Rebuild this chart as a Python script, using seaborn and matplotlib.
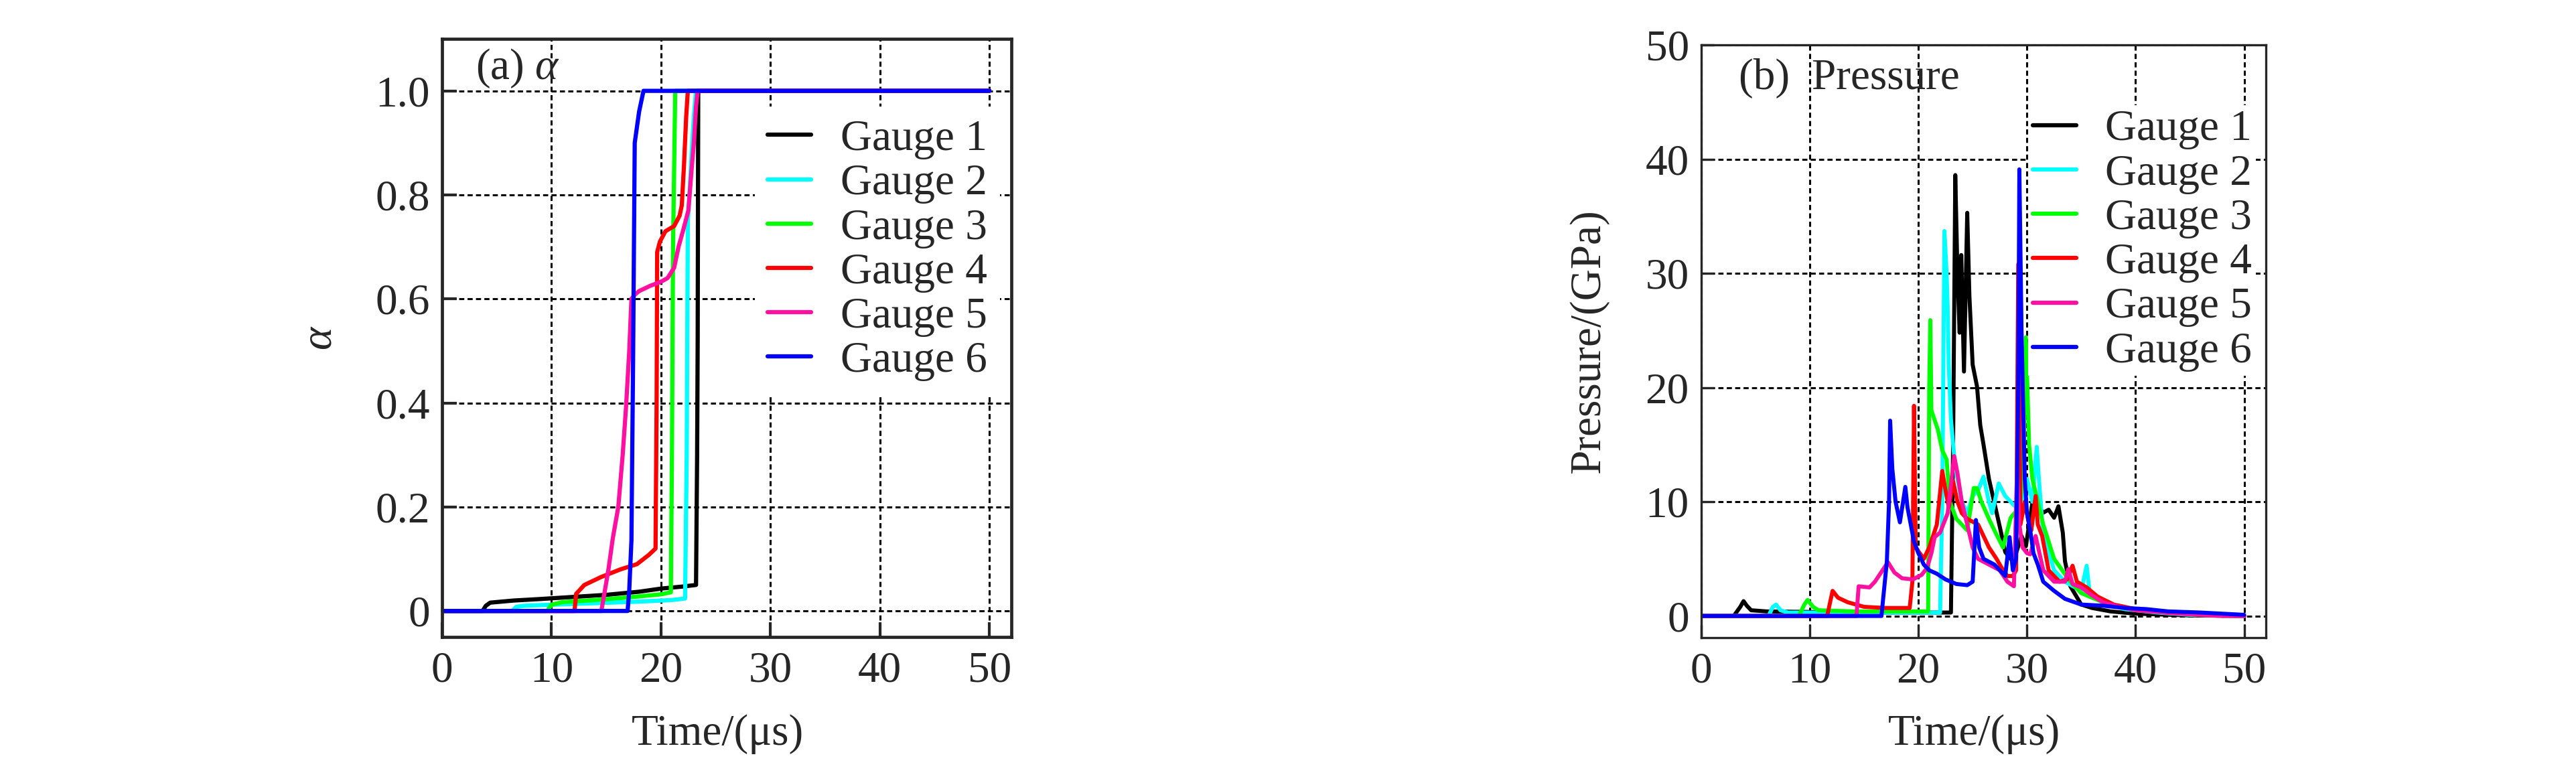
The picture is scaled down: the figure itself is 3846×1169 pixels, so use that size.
import numpy as np
import pandas as pd
import seaborn as sns
import matplotlib
matplotlib.use("Agg")
import matplotlib.pyplot as plt

# ---- data ----
gauges = ["Gauge 1", "Gauge 2", "Gauge 3", "Gauge 4", "Gauge 5", "Gauge 6"]
colors = ["#000000", "#00ffff", "#00ff00", "#ff0000", "#ff10a0", "#0000ff"]

# (a) alpha vs time, (t, alpha) pairs
alpha_g1 = [(0, 0), (3.7, 0), (4.0, 0.01), (4.4, 0.016), (6.5, 0.02), (9.0, 0.023), (12, 0.027),
            (15, 0.031), (18, 0.037), (20, 0.043), (22, 0.047), (23.2, 0.05), (23.3, 0.3),
            (23.35, 0.52), (23.4, 1.0), (50, 1.0)]
alpha_g2 = [(0, 0), (6.4, 0), (6.8, 0.008), (7.5, 0.01), (10, 0.012), (14, 0.015), (18, 0.018),
            (21, 0.021), (22.2, 0.024), (22.35, 0.3), (22.45, 0.75), (22.6, 0.8), (22.8, 0.88),
            (23.0, 0.95), (23.2, 1.0), (50, 1.0)]
alpha_g3 = [(0, 0), (9.6, 0), (10.0, 0.012), (11, 0.017), (14, 0.021), (17, 0.026), (20, 0.032),
            (20.9, 0.036), (21.0, 0.3), (21.1, 0.7), (21.3, 1.0), (50, 1.0)]
alpha_g4 = [(0, 0), (12.1, 0), (12.25, 0.033), (13.0, 0.05), (14.5, 0.065), (16.3, 0.08),
            (17.8, 0.09), (18.9, 0.108), (19.5, 0.12), (19.6, 0.4), (19.65, 0.69), (19.9, 0.71),
            (20.4, 0.73), (21.2, 0.74), (21.7, 0.76), (21.9, 0.78), (22.1, 0.857), (22.3, 0.95),
            (22.45, 1.0), (50, 1.0)]
alpha_g5 = [(0, 0), (14.55, 0), (14.8, 0.03), (15.2, 0.08), (15.6, 0.14), (16.1, 0.2), (16.5, 0.3),
            (16.8, 0.39), (17.1, 0.5), (17.3, 0.6), (17.6, 0.608), (18.0, 0.615), (19.0, 0.625),
            (20.0, 0.633), (20.6, 0.64), (21.2, 0.66), (21.6, 0.7), (22.0, 0.73), (22.5, 0.77),
            (22.8, 0.85), (23.0, 0.9), (23.2, 0.97), (23.35, 1.0), (50, 1.0)]
alpha_g6 = [(0, 0), (16.95, 0), (17.1, 0.04), (17.3, 0.136), (17.45, 0.48), (17.6, 0.9),
            (18.0, 0.96), (18.4, 1.0), (50, 1.0)]

# (b) pressure (GPa) vs time
pres_g1 = [(0, 0), (3.0, 0), (3.6, 0.8), (3.9, 1.3), (4.2, 0.9), (4.6, 0.5), (6, 0.4), (10, 0.35),
           (15, 0.3), (20, 0.3), (23.0, 0.3), (23.2, 15), (23.4, 38.6), (23.6, 30), (23.8, 24.8),
           (23.95, 31.6), (24.2, 21.4), (24.5, 35.3), (24.7, 28), (25.0, 22), (25.4, 20.1),
           (25.7, 16.7), (26.0, 15.0), (26.5, 12.0), (27.0, 9.9), (27.5, 7.8), (28.0, 5.6),
           (28.5, 5.0), (29.0, 5.5), (29.5, 7.0), (29.9, 6.1), (30.5, 9.9), (31.0, 10.3),
           (31.4, 9.0), (32.0, 9.3), (32.5, 8.6), (32.9, 9.6), (33.3, 7.3), (33.5, 4.8),
           (34.0, 2.6), (35.0, 1.0), (36.0, 0.7), (37.7, 0.4), (40, 0.2), (45, 0.05), (50, 0)]
pres_g2 = [(0, 0), (6.2, 0), (6.6, 0.8), (6.9, 1.0), (7.3, 0.5), (8, 0.3), (12, 0.3), (18, 0.3),
           (22.0, 0.3), (22.2, 10), (22.4, 33.7), (22.6, 30), (22.7, 27), (22.8, 22), (23.0, 17.2),
           (23.3, 14), (23.6, 12), (24.0, 10), (24.5, 9), (25.0, 10.5), (25.5, 11), (26.0, 12.2),
           (26.5, 10), (26.8, 9), (27.4, 11.6), (28.0, 10.5), (29.0, 9.5), (29.5, 9), (30.0, 12),
           (30.5, 10), (30.9, 14.8), (31.1, 12), (31.5, 7), (32.5, 4), (33.5, 3), (35.0, 2.2),
           (35.5, 4.4), (35.8, 1.8), (37, 1.2), (39, 0.6), (42, 0.3), (45, 0.1), (50, 0)]
pres_g3 = [(0, 0), (9.0, 0), (9.5, 1.0), (9.8, 1.4), (10.3, 0.8), (10.8, 0.5), (14, 0.4), (18, 0.4),
           (20.9, 0.4), (21.0, 20), (21.1, 25.9), (21.2, 18), (21.8, 16.3), (22.2, 14.5),
           (22.6, 13.7), (22.9, 10), (23.5, 8.5), (24.0, 8), (24.5, 7.5), (25.1, 11.2), (25.4, 11.2),
           (25.8, 10), (26.5, 8.5), (27.0, 7.5), (27.8, 6.0), (28.5, 8.6), (29.3, 9.5), (29.6, 12),
           (29.9, 24.4), (30.2, 15), (30.5, 12), (31.5, 8), (32.5, 5), (34, 3), (35, 2), (37, 1.2),
           (39, 0.7), (42, 0.4), (46, 0.1), (50, 0)]
pres_g4 = [(0, 0), (11.6, 0), (12.1, 2.2), (12.6, 1.6), (13.5, 1.2), (15, 0.8), (17, 0.7),
           (19.2, 0.7), (19.45, 3), (19.6, 18.4), (19.75, 6), (20.5, 5), (21, 6), (21.7, 8),
           (22.2, 12.7), (22.5, 11), (22.8, 9.5), (23.2, 11.8), (23.6, 10), (24, 9), (24.5, 8.5),
           (25.5, 8), (26, 7), (26.5, 6), (27.2, 5), (27.8, 4), (28.2, 3.5), (28.7, 3.5), (29.0, 4),
           (29.2, 30.8), (29.4, 8), (29.8, 10), (30.2, 8), (30.4, 7.5), (30.8, 10.5), (31.0, 8),
           (31.4, 7), (32, 4), (33, 3), (33.7, 3.2), (34.2, 4.4), (34.6, 3), (35.5, 2.5),
           (36.5, 1.7), (38, 1.0), (40, 0.6), (43, 0.3), (46, 0.1), (50, 0)]
pres_g5 = [(0, 0), (14.3, 0), (14.5, 2.6), (15.5, 2.5), (16, 3), (16.7, 4), (17.2, 4.7), (17.8, 3.8),
           (18.5, 3.3), (19.5, 3.2), (20.3, 3.6), (20.8, 4.2), (21.2, 5.5), (21.5, 6.9), (22, 7.3),
           (22.7, 9), (23.3, 14), (23.6, 12.5), (24, 10), (24.5, 8), (25, 6), (25.5, 5), (26.5, 4.5),
           (27.5, 4), (28.2, 3), (28.8, 2.6), (29.1, 13), (29.3, 8), (29.6, 6), (30, 5.5),
           (30.3, 5.4), (30.8, 7), (31.5, 4), (32.5, 3), (33.5, 3), (33.8, 4.1), (34.2, 2.8),
           (35, 2.5), (36, 1.8), (37, 1.2), (38.5, 0.8), (40, 0.5), (44, 0.2), (48, 0), (50, 0)]
pres_g6 = [(0, 0), (16.6, 0), (17.1, 4.8), (17.3, 10), (17.4, 17.1), (17.6, 12.9), (17.9, 10),
           (18.3, 8.2), (18.8, 11.3), (19.0, 9.5), (19.3, 8), (19.6, 6.5), (20, 5.5), (20.5, 4.5),
           (21, 4), (21.7, 3.7), (22.5, 3.2), (23.5, 2.8), (24.5, 2.7), (25, 3), (25.3, 8.4),
           (25.6, 6), (26, 5), (27, 4.5), (28, 3.5), (28.4, 6.9), (28.7, 4), (29, 5), (29.2, 20),
           (29.3, 39.1), (29.5, 25), (29.8, 12), (30.0, 9), (30.3, 7.5), (30.6, 5.5), (31, 4.5),
           (31.5, 3), (32.5, 2.2), (33.5, 1.5), (35, 1.0), (37, 0.9), (39, 0.7), (41, 0.6),
           (43, 0.4), (46, 0.3), (50, 0.1)]

alpha_sets = [alpha_g1, alpha_g2, alpha_g3, alpha_g4, alpha_g5, alpha_g6]
pres_sets = [pres_g1, pres_g2, pres_g3, pres_g4, pres_g5, pres_g6]

x_ticks = [0, 10, 20, 30, 40, 50]
alpha_ticks = [0, 0.2, 0.4, 0.6, 0.8, 1.0]
alpha_ticklabels = ["0", "0.2", "0.4", "0.6", "0.8", "1.0"]
pres_ticks = [0, 10, 20, 30, 40, 50]

# ---- style ----
sns.set_style("ticks")
plt.rcParams["font.family"] = ["Liberation Serif", "DejaVu Serif"]
plt.rcParams["mathtext.fontset"] = "custom"
plt.rcParams["mathtext.rm"] = "Liberation Serif"
plt.rcParams["mathtext.it"] = "Liberation Serif:italic"
FS = 47

fig = plt.figure(figsize=(38.46, 11.69), dpi=100)
axL = fig.add_axes([0.1716, 0.1865, 0.2210, 0.7639])
axR = fig.add_axes([0.6604, 0.1856, 0.2192, 0.7571])

grid_kw = dict(color="black", linestyle=(0, (2.5, 1.6)), linewidth=2.2)
leg_kw = dict(fontsize=FS, frameon=True, edgecolor="none", facecolor="white", framealpha=1,
              fancybox=False, borderaxespad=0, labelspacing=0.1,
              handlelength=1.0, handletextpad=0.66, loc="upper left")


def draw(ax, sets, lw):
    for name, col, pts in zip(gauges, colors, sets):
        df = pd.DataFrame(pts, columns=["t", "v"])
        sns.lineplot(data=df, x="t", y="v", ax=ax, color=col, linewidth=lw,
                     sort=False, estimator=None, label=name)


# (a) alpha
draw(axL, alpha_sets, 4.5)
axL.set_xlim(0, 52)
axL.set_ylim(-0.05, 1.1)
axL.set_xticks(x_ticks)
axL.set_yticks(alpha_ticks)
axL.set_yticklabels(alpha_ticklabels)
axL.set_xlabel("Time/(\u03bcs)", fontsize=FS)
axL.set_ylabel(r"$\alpha$", fontsize=FS)
axL.xaxis.set_label_coords(0.484, -0.129)
axL.yaxis.set_label_coords(-0.178, 0.5)
axL.text(0.059, 0.951, r"(a) $\alpha$", transform=axL.transAxes, fontsize=FS,
         ha="left", va="center")
for s in axL.spines.values():
    s.set_linewidth(3.4)
axL.tick_params(direction="in", length=16, width=3, labelsize=FS, pad=13)
axL.tick_params(axis="x", pad=15)
axL.grid(True, **grid_kw)
axL.set_axisbelow(True)
legL = axL.legend(bbox_to_anchor=(0.549, 0.887), borderpad=0.3, **leg_kw)
legL.set_zorder(2.2)
for h in legL.get_lines():
    h.set_linewidth(4.5)

# (b) pressure
draw(axR, pres_sets, 4.3)
axR.set_xlim(0, 52)
axR.set_ylim(-1.9, 50)
axR.set_xticks(x_ticks)
axR.set_yticks(pres_ticks)
axR.set_xlabel("Time/(\u03bcs)", fontsize=FS)
axR.set_ylabel("Pressure/(GPa)", fontsize=FS)
axR.xaxis.set_label_coords(0.484, -0.129)
axR.yaxis.set_label_coords(-0.163, 0.5)
axR.text(0.066, 0.943, "(b)  Pressure", transform=axR.transAxes, fontsize=FS,
         ha="left", va="center")
for s in axR.spines.values():
    s.set_linewidth(2.4)
axR.tick_params(direction="in", length=14, width=2.4, labelsize=FS, pad=13)
axR.tick_params(axis="x", pad=15)
axR.grid(True, **grid_kw)
axR.set_axisbelow(True)
legR = axR.legend(bbox_to_anchor=(0.579, 0.898), borderpad=0.1, **leg_kw)
legR.set_zorder(2.2)
for h in legR.get_lines():
    h.set_linewidth(4.5)

fig.savefig("out.png", dpi=100, facecolor="white")
